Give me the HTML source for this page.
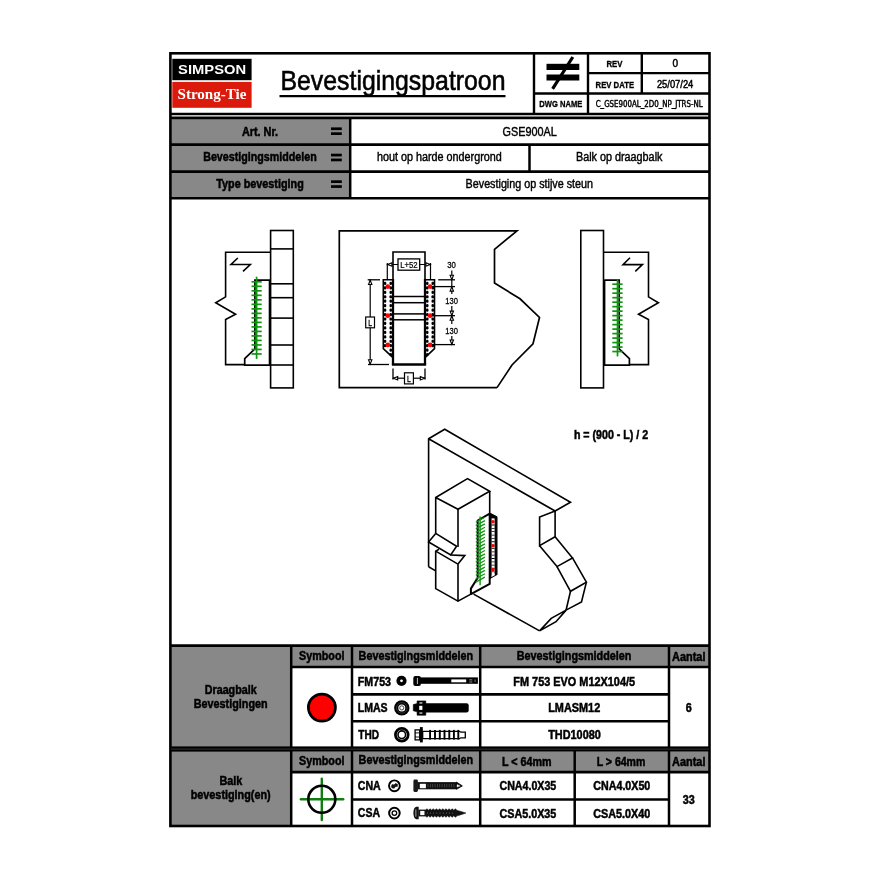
<!DOCTYPE html>
<html lang="nl"><head><meta charset="utf-8"><title>Bevestigingspatroon</title>
<style>
html,body{margin:0;padding:0;background:#fff;}
body{width:880px;height:880px;overflow:hidden;}
svg{display:block;filter:blur(0.45px);}
</style></head><body>
<svg width="880" height="880" viewBox="0 0 880 880">
<rect x="0" y="0" width="880" height="880" fill="#fff"/>

<rect x="171" y="118" width="179" height="80" fill="#888888" stroke="none" stroke-width="0"/>
<rect x="171" y="646" width="120.6" height="180" fill="#888888" stroke="none" stroke-width="0"/>
<rect x="291" y="646" width="418" height="21" fill="#888888" stroke="none" stroke-width="0"/>
<rect x="291" y="751.5" width="418" height="20.5" fill="#888888" stroke="none" stroke-width="0"/>
<rect x="170.4" y="53.3" width="539.1" height="772.7" fill="none" stroke="#000" stroke-width="2.6"/>
<line x1="170" y1="113.9" x2="710" y2="113.9" stroke="#000" stroke-width="2.5" />
<line x1="534" y1="53" x2="534" y2="114" stroke="#000" stroke-width="2.4" />
<line x1="534" y1="93.45" x2="709" y2="93.45" stroke="#000" stroke-width="2.4" />
<line x1="588" y1="53" x2="588" y2="114" stroke="#000" stroke-width="2.4" />
<line x1="588" y1="73.1" x2="709" y2="73.1" stroke="#000" stroke-width="2.4" />
<line x1="641.8" y1="53" x2="641.8" y2="93" stroke="#000" stroke-width="2.4" />
<rect x="172.3" y="58.8" width="79.3" height="21.4" fill="#000" stroke="none" stroke-width="0"/>
<rect x="172.3" y="81.9" width="79.3" height="25.9" fill="#db1a0b" stroke="none" stroke-width="0"/>
<text x="212.1" y="74.4" font-family="'Liberation Sans', Arial, sans-serif" font-size="13" font-weight="bold" fill="#fff" text-anchor="middle" textLength="68" lengthAdjust="spacingAndGlyphs" stroke="none">SIMPSON</text>
<text x="212" y="98.9" font-family="'Liberation Serif', serif" font-size="14.5" font-weight="bold" fill="#fff" text-anchor="middle" textLength="69" lengthAdjust="spacingAndGlyphs" stroke="none">Strong-Tie</text>
<text x="393" y="89.8" font-family="'Liberation Sans', Arial, sans-serif" font-size="27.8" font-weight="normal" fill="#000" text-anchor="middle" textLength="225" lengthAdjust="spacingAndGlyphs" stroke="#000" stroke-width="0.6">Bevestigingspatroon</text>
<line x1="279.5" y1="96.1" x2="505.5" y2="96.1" stroke="#000" stroke-width="2.2" />
<rect x="546.5" y="63.8" width="32.8" height="6.2" fill="#000" stroke="none" stroke-width="0"/>
<rect x="546.5" y="74.5" width="32.8" height="6.0" fill="#000" stroke="none" stroke-width="0"/>
<line x1="572.8" y1="57.0" x2="552.6" y2="88.9" stroke="#000" stroke-width="3.2" />
<text x="614.5" y="66.7" font-family="'Liberation Sans', Arial, sans-serif" font-size="9" font-weight="bold" fill="#000" text-anchor="middle" textLength="16" lengthAdjust="spacingAndGlyphs" stroke="#000" stroke-width="0.3">REV</text>
<text x="675.4" y="66.9" font-family="'Liberation Sans', Arial, sans-serif" font-size="11.2" font-weight="normal" fill="#000" text-anchor="middle" textLength="5.6" lengthAdjust="spacingAndGlyphs" stroke="#000" stroke-width="0.5">0</text>
<text x="614.8" y="87.5" font-family="'Liberation Sans', Arial, sans-serif" font-size="9" font-weight="bold" fill="#000" text-anchor="middle" textLength="38.5" lengthAdjust="spacingAndGlyphs" stroke="#000" stroke-width="0.3">REV DATE</text>
<text x="675.1" y="87.6" font-family="'Liberation Sans', Arial, sans-serif" font-size="11.2" font-weight="normal" fill="#000" text-anchor="middle" textLength="36.4" lengthAdjust="spacingAndGlyphs" stroke="#000" stroke-width="0.5">25/07/24</text>
<text x="560.8" y="107" font-family="'Liberation Sans', Arial, sans-serif" font-size="9" font-weight="bold" fill="#000" text-anchor="middle" textLength="43" lengthAdjust="spacingAndGlyphs" stroke="#000" stroke-width="0.3">DWG NAME</text>
<text x="649.2" y="106.6" font-family="'DejaVu Sans', 'Liberation Sans', sans-serif" font-size="8" font-weight="normal" fill="#000" text-anchor="middle" textLength="107" lengthAdjust="spacingAndGlyphs" stroke="#000" stroke-width="0.42">C_GSE900AL_2D0_NP_JTRS-NL</text>
<line x1="170" y1="117.9" x2="710" y2="117.9" stroke="#000" stroke-width="2.6" />
<line x1="170" y1="144.6" x2="710" y2="144.6" stroke="#000" stroke-width="2.6" />
<line x1="170" y1="171.6" x2="710" y2="171.6" stroke="#000" stroke-width="2.6" />
<line x1="170" y1="198.3" x2="710" y2="198.3" stroke="#000" stroke-width="2.6" />
<line x1="350.2" y1="117.5" x2="350.2" y2="198.5" stroke="#000" stroke-width="2.5" />
<line x1="529.5" y1="145" x2="529.5" y2="171.5" stroke="#000" stroke-width="2.5" />
<text x="260" y="135.7" font-family="'Liberation Sans', Arial, sans-serif" font-size="12.3" font-weight="bold" fill="#000" text-anchor="middle" textLength="36.2" lengthAdjust="spacingAndGlyphs"  stroke="#000" stroke-width="0.5">Art. Nr.</text>
<text x="260" y="161.4" font-family="'Liberation Sans', Arial, sans-serif" font-size="12.3" font-weight="bold" fill="#000" text-anchor="middle" textLength="113.6" lengthAdjust="spacingAndGlyphs"  stroke="#000" stroke-width="0.5">Bevestigingsmiddelen</text>
<text x="260" y="188" font-family="'Liberation Sans', Arial, sans-serif" font-size="12.3" font-weight="bold" fill="#000" text-anchor="middle" textLength="87.5" lengthAdjust="spacingAndGlyphs"  stroke="#000" stroke-width="0.5">Type bevestiging</text>
<rect x="331" y="127.39999999999999" width="10.8" height="2.7" fill="#000" stroke="none" stroke-width="0"/>
<rect x="331" y="132.29999999999998" width="10.8" height="2.7" fill="#000" stroke="none" stroke-width="0"/>
<rect x="331" y="153.70000000000002" width="10.8" height="2.7" fill="#000" stroke="none" stroke-width="0"/>
<rect x="331" y="158.6" width="10.8" height="2.7" fill="#000" stroke="none" stroke-width="0"/>
<rect x="331" y="180.3" width="10.8" height="2.7" fill="#000" stroke="none" stroke-width="0"/>
<rect x="331" y="185.2" width="10.8" height="2.7" fill="#000" stroke="none" stroke-width="0"/>
<text x="529.7" y="135.6" font-family="'Liberation Sans', Arial, sans-serif" font-size="12.3" font-weight="normal" fill="#000" text-anchor="middle" textLength="54.2" lengthAdjust="spacingAndGlyphs" stroke="#000" stroke-width="0.42">GSE900AL</text>
<text x="439.4" y="161.0" font-family="'Liberation Sans', Arial, sans-serif" font-size="12.3" font-weight="normal" fill="#000" text-anchor="middle" textLength="124.8" lengthAdjust="spacingAndGlyphs" stroke="#000" stroke-width="0.42">hout op harde ondergrond</text>
<text x="619.2" y="161.0" font-family="'Liberation Sans', Arial, sans-serif" font-size="12.3" font-weight="normal" fill="#000" text-anchor="middle" textLength="86.5" lengthAdjust="spacingAndGlyphs" stroke="#000" stroke-width="0.42">Balk op draagbalk</text>
<text x="529.3" y="188" font-family="'Liberation Sans', Arial, sans-serif" font-size="12.3" font-weight="normal" fill="#000" text-anchor="middle" textLength="127.4" lengthAdjust="spacingAndGlyphs" stroke="#000" stroke-width="0.42">Bevestiging op stijve steun</text>
<rect x="270.6" y="230.5" width="22.69999999999999" height="157.4" fill="none" stroke="#000" stroke-width="1.6"/>
<line x1="270.6" y1="248.9" x2="293.3" y2="248.9" stroke="#000" stroke-width="1.6" />
<line x1="270.6" y1="283.8" x2="293.3" y2="283.8" stroke="#000" stroke-width="1.6" />
<line x1="270.6" y1="297.7" x2="293.3" y2="297.7" stroke="#000" stroke-width="1.6" />
<line x1="270.6" y1="318.1" x2="293.3" y2="318.1" stroke="#000" stroke-width="1.6" />
<line x1="270.6" y1="345.0" x2="293.3" y2="345.0" stroke="#000" stroke-width="1.6" />
<line x1="270.6" y1="365.0" x2="293.3" y2="365.0" stroke="#000" stroke-width="1.6" />
<path d="M270.6 252.2 L225.6 252.2 L225.6 296.9 L215.7 302.8 L235.6 314.2 L225.6 319.5 L225.6 364.6 L244.7 364.6" fill="none" stroke="#000" stroke-width="1.6" stroke-linejoin="miter"/>
<path d="M270.0 280.1 L254.9 280.1 L254.9 348.8 L244.7 358.6 L244.7 365.2 L270.0 365.2" fill="none" stroke="#000" stroke-width="1.7" stroke-linejoin="miter"/>
<line x1="269.8" y1="280" x2="269.8" y2="365.5" stroke="#000" stroke-width="2.2" />
<path d="M237.8 258 L231 264.5 L250.3 264.5 L243 271.4" fill="none" stroke="#000" stroke-width="1.6" stroke-linejoin="miter"/>
<line x1="256.6" y1="276.7" x2="256.6" y2="358.9" stroke="#0f960f" stroke-width="1.7" />
<line x1="251.5" y1="281.8" x2="261.7" y2="281.8" stroke="#0f960f" stroke-width="1.7" />
<line x1="251.5" y1="286.31" x2="261.7" y2="286.31" stroke="#0f960f" stroke-width="1.7" />
<line x1="251.5" y1="290.82" x2="261.7" y2="290.82" stroke="#0f960f" stroke-width="1.7" />
<line x1="251.5" y1="295.33" x2="261.7" y2="295.33" stroke="#0f960f" stroke-width="1.7" />
<line x1="251.5" y1="299.84" x2="261.7" y2="299.84" stroke="#0f960f" stroke-width="1.7" />
<line x1="251.5" y1="304.35" x2="261.7" y2="304.35" stroke="#0f960f" stroke-width="1.7" />
<line x1="251.5" y1="308.86" x2="261.7" y2="308.86" stroke="#0f960f" stroke-width="1.7" />
<line x1="251.5" y1="313.37" x2="261.7" y2="313.37" stroke="#0f960f" stroke-width="1.7" />
<line x1="251.5" y1="317.88" x2="261.7" y2="317.88" stroke="#0f960f" stroke-width="1.7" />
<line x1="251.5" y1="322.39" x2="261.7" y2="322.39" stroke="#0f960f" stroke-width="1.7" />
<line x1="251.5" y1="326.9" x2="261.7" y2="326.9" stroke="#0f960f" stroke-width="1.7" />
<line x1="251.5" y1="331.41" x2="261.7" y2="331.41" stroke="#0f960f" stroke-width="1.7" />
<line x1="251.5" y1="335.92" x2="261.7" y2="335.92" stroke="#0f960f" stroke-width="1.7" />
<line x1="251.5" y1="340.43" x2="261.7" y2="340.43" stroke="#0f960f" stroke-width="1.7" />
<line x1="251.5" y1="344.94" x2="261.7" y2="344.94" stroke="#0f960f" stroke-width="1.7" />
<line x1="251.5" y1="349.45" x2="261.7" y2="349.45" stroke="#0f960f" stroke-width="1.7" />
<line x1="251.5" y1="353.96" x2="261.7" y2="353.96" stroke="#0f960f" stroke-width="1.7" />
<rect x="580.8" y="230.5" width="22.700000000000045" height="157.4" fill="none" stroke="#000" stroke-width="1.6"/>
<path d="M603.5 252.2 L648.5 252.2 L648.5 296.9 L658.4 302.8 L638.5 314.2 L648.5 319.5 L648.5 364.6 L629.4 364.6" fill="none" stroke="#000" stroke-width="1.6" stroke-linejoin="miter"/>
<path d="M604.1 280.1 L619.2 280.1 L619.2 348.8 L629.4 358.6 L629.4 365.2 L604.1 365.2" fill="none" stroke="#000" stroke-width="1.7" stroke-linejoin="miter"/>
<line x1="604.3" y1="280" x2="604.3" y2="365.5" stroke="#000" stroke-width="2.2" />
<path d="M630.0 257.7 L623 264.6 L642.4 264.6 L635.3 271.3" fill="none" stroke="#000" stroke-width="1.6" stroke-linejoin="miter"/>
<line x1="617.5" y1="279.7" x2="617.5" y2="356.4" stroke="#0f960f" stroke-width="1.7" />
<line x1="612.3" y1="284.2" x2="622.6" y2="284.2" stroke="#0f960f" stroke-width="1.7" />
<line x1="612.3" y1="288.69" x2="622.6" y2="288.69" stroke="#0f960f" stroke-width="1.7" />
<line x1="612.3" y1="293.18" x2="622.6" y2="293.18" stroke="#0f960f" stroke-width="1.7" />
<line x1="612.3" y1="297.67" x2="622.6" y2="297.67" stroke="#0f960f" stroke-width="1.7" />
<line x1="612.3" y1="302.16" x2="622.6" y2="302.16" stroke="#0f960f" stroke-width="1.7" />
<line x1="612.3" y1="306.65" x2="622.6" y2="306.65" stroke="#0f960f" stroke-width="1.7" />
<line x1="612.3" y1="311.14" x2="622.6" y2="311.14" stroke="#0f960f" stroke-width="1.7" />
<line x1="612.3" y1="315.63" x2="622.6" y2="315.63" stroke="#0f960f" stroke-width="1.7" />
<line x1="612.3" y1="320.12" x2="622.6" y2="320.12" stroke="#0f960f" stroke-width="1.7" />
<line x1="612.3" y1="324.61" x2="622.6" y2="324.61" stroke="#0f960f" stroke-width="1.7" />
<line x1="612.3" y1="329.1" x2="622.6" y2="329.1" stroke="#0f960f" stroke-width="1.7" />
<line x1="612.3" y1="333.59" x2="622.6" y2="333.59" stroke="#0f960f" stroke-width="1.7" />
<line x1="612.3" y1="338.08" x2="622.6" y2="338.08" stroke="#0f960f" stroke-width="1.7" />
<line x1="612.3" y1="342.57" x2="622.6" y2="342.57" stroke="#0f960f" stroke-width="1.7" />
<line x1="612.3" y1="347.06" x2="622.6" y2="347.06" stroke="#0f960f" stroke-width="1.7" />
<line x1="612.3" y1="351.55" x2="622.6" y2="351.55" stroke="#0f960f" stroke-width="1.7" />
<path d="M497 387.6 L339.3 387.6 L339.3 230.8 L517 230.8 L494.5 249.3 L494.5 283 L520 298.8 L539.5 317.5 L533 343.8 L512 365 L497 387.6" fill="none" stroke="#000" stroke-width="1.7" stroke-linejoin="miter"/>
<path d="M393.0 279.8 L383.3 279.8 L383.3 348.6 L393.0 357.7" fill="none" stroke="#000" stroke-width="1.6" stroke-linejoin="miter"/>
<rect x="383.80" y="281.80" width="2.5" height="3.2" rx="1.2" fill="#000"/>
<rect x="389.50" y="281.80" width="2.5" height="3.2" rx="1.2" fill="#000"/>
<rect x="383.80" y="286.25" width="2.5" height="3.2" rx="1.2" fill="#000"/>
<rect x="389.50" y="286.25" width="2.5" height="3.2" rx="1.2" fill="#000"/>
<rect x="383.80" y="290.70" width="2.5" height="3.2" rx="1.2" fill="#000"/>
<rect x="389.50" y="290.70" width="2.5" height="3.2" rx="1.2" fill="#000"/>
<rect x="383.80" y="295.15" width="2.5" height="3.2" rx="1.2" fill="#000"/>
<rect x="389.50" y="295.15" width="2.5" height="3.2" rx="1.2" fill="#000"/>
<rect x="383.80" y="299.60" width="2.5" height="3.2" rx="1.2" fill="#000"/>
<rect x="389.50" y="299.60" width="2.5" height="3.2" rx="1.2" fill="#000"/>
<rect x="383.80" y="304.05" width="2.5" height="3.2" rx="1.2" fill="#000"/>
<rect x="389.50" y="304.05" width="2.5" height="3.2" rx="1.2" fill="#000"/>
<rect x="383.80" y="308.50" width="2.5" height="3.2" rx="1.2" fill="#000"/>
<rect x="389.50" y="308.50" width="2.5" height="3.2" rx="1.2" fill="#000"/>
<rect x="383.80" y="312.95" width="2.5" height="3.2" rx="1.2" fill="#000"/>
<rect x="389.50" y="312.95" width="2.5" height="3.2" rx="1.2" fill="#000"/>
<rect x="383.80" y="317.40" width="2.5" height="3.2" rx="1.2" fill="#000"/>
<rect x="389.50" y="317.40" width="2.5" height="3.2" rx="1.2" fill="#000"/>
<rect x="383.80" y="321.85" width="2.5" height="3.2" rx="1.2" fill="#000"/>
<rect x="389.50" y="321.85" width="2.5" height="3.2" rx="1.2" fill="#000"/>
<rect x="383.80" y="326.30" width="2.5" height="3.2" rx="1.2" fill="#000"/>
<rect x="389.50" y="326.30" width="2.5" height="3.2" rx="1.2" fill="#000"/>
<rect x="383.80" y="330.75" width="2.5" height="3.2" rx="1.2" fill="#000"/>
<rect x="389.50" y="330.75" width="2.5" height="3.2" rx="1.2" fill="#000"/>
<rect x="383.80" y="335.20" width="2.5" height="3.2" rx="1.2" fill="#000"/>
<rect x="389.50" y="335.20" width="2.5" height="3.2" rx="1.2" fill="#000"/>
<rect x="383.80" y="339.65" width="2.5" height="3.2" rx="1.2" fill="#000"/>
<rect x="389.50" y="339.65" width="2.5" height="3.2" rx="1.2" fill="#000"/>
<rect x="383.80" y="344.10" width="2.5" height="3.2" rx="1.2" fill="#000"/>
<rect x="389.50" y="344.10" width="2.5" height="3.2" rx="1.2" fill="#000"/>
<rect x="389.50" y="348.55" width="2.5" height="3.2" rx="1.2" fill="#000"/>
<rect x="389.50" y="353.00" width="2.5" height="3.2" rx="1.2" fill="#000"/>
<path d="M425.0 279.8 L434.5 279.8 L434.5 348.6 L425.0 357.7" fill="none" stroke="#000" stroke-width="1.6" stroke-linejoin="miter"/>
<rect x="431.50" y="281.80" width="2.5" height="3.2" rx="1.2" fill="#000"/>
<rect x="426.00" y="281.80" width="2.5" height="3.2" rx="1.2" fill="#000"/>
<rect x="431.50" y="286.25" width="2.5" height="3.2" rx="1.2" fill="#000"/>
<rect x="426.00" y="286.25" width="2.5" height="3.2" rx="1.2" fill="#000"/>
<rect x="431.50" y="290.70" width="2.5" height="3.2" rx="1.2" fill="#000"/>
<rect x="426.00" y="290.70" width="2.5" height="3.2" rx="1.2" fill="#000"/>
<rect x="431.50" y="295.15" width="2.5" height="3.2" rx="1.2" fill="#000"/>
<rect x="426.00" y="295.15" width="2.5" height="3.2" rx="1.2" fill="#000"/>
<rect x="431.50" y="299.60" width="2.5" height="3.2" rx="1.2" fill="#000"/>
<rect x="426.00" y="299.60" width="2.5" height="3.2" rx="1.2" fill="#000"/>
<rect x="431.50" y="304.05" width="2.5" height="3.2" rx="1.2" fill="#000"/>
<rect x="426.00" y="304.05" width="2.5" height="3.2" rx="1.2" fill="#000"/>
<rect x="431.50" y="308.50" width="2.5" height="3.2" rx="1.2" fill="#000"/>
<rect x="426.00" y="308.50" width="2.5" height="3.2" rx="1.2" fill="#000"/>
<rect x="431.50" y="312.95" width="2.5" height="3.2" rx="1.2" fill="#000"/>
<rect x="426.00" y="312.95" width="2.5" height="3.2" rx="1.2" fill="#000"/>
<rect x="431.50" y="317.40" width="2.5" height="3.2" rx="1.2" fill="#000"/>
<rect x="426.00" y="317.40" width="2.5" height="3.2" rx="1.2" fill="#000"/>
<rect x="431.50" y="321.85" width="2.5" height="3.2" rx="1.2" fill="#000"/>
<rect x="426.00" y="321.85" width="2.5" height="3.2" rx="1.2" fill="#000"/>
<rect x="431.50" y="326.30" width="2.5" height="3.2" rx="1.2" fill="#000"/>
<rect x="426.00" y="326.30" width="2.5" height="3.2" rx="1.2" fill="#000"/>
<rect x="431.50" y="330.75" width="2.5" height="3.2" rx="1.2" fill="#000"/>
<rect x="426.00" y="330.75" width="2.5" height="3.2" rx="1.2" fill="#000"/>
<rect x="431.50" y="335.20" width="2.5" height="3.2" rx="1.2" fill="#000"/>
<rect x="426.00" y="335.20" width="2.5" height="3.2" rx="1.2" fill="#000"/>
<rect x="431.50" y="339.65" width="2.5" height="3.2" rx="1.2" fill="#000"/>
<rect x="426.00" y="339.65" width="2.5" height="3.2" rx="1.2" fill="#000"/>
<rect x="431.50" y="344.10" width="2.5" height="3.2" rx="1.2" fill="#000"/>
<rect x="426.00" y="344.10" width="2.5" height="3.2" rx="1.2" fill="#000"/>
<rect x="426.00" y="348.55" width="2.5" height="3.2" rx="1.2" fill="#000"/>
<rect x="426.00" y="353.00" width="2.5" height="3.2" rx="1.2" fill="#000"/>
<path d="M393 279.8 L393 252 L425 252 L425 279.8" fill="none" stroke="#000" stroke-width="1.6" stroke-linejoin="miter"/>
<line x1="393" y1="279" x2="393" y2="365" stroke="#000" stroke-width="2.3" />
<line x1="425" y1="279" x2="425" y2="365" stroke="#000" stroke-width="2.3" />
<line x1="391.9" y1="364.5" x2="426.1" y2="364.5" stroke="#000" stroke-width="2.6" />
<line x1="393" y1="296.5" x2="425" y2="296.5" stroke="#000" stroke-width="1.5" />
<line x1="393" y1="302.7" x2="425" y2="302.7" stroke="#000" stroke-width="1.5" />
<line x1="393" y1="313.9" x2="425" y2="313.9" stroke="#000" stroke-width="1.5" />
<line x1="393" y1="319.8" x2="425" y2="319.8" stroke="#000" stroke-width="1.5" />
<circle cx="387.8" cy="286.6" r="2.4" fill="#ff0000"/>
<circle cx="387.8" cy="315.7" r="2.4" fill="#ff0000"/>
<circle cx="387.8" cy="344.9" r="2.4" fill="#ff0000"/>
<circle cx="430.1" cy="286.6" r="2.4" fill="#ff0000"/>
<circle cx="430.1" cy="315.7" r="2.4" fill="#ff0000"/>
<circle cx="430.1" cy="344.9" r="2.4" fill="#ff0000"/>
<line x1="387.3" y1="263" x2="387.3" y2="279.8" stroke="#000" stroke-width="1.2" />
<line x1="430.5" y1="263" x2="430.5" y2="279.8" stroke="#000" stroke-width="1.2" />
<line x1="387.3" y1="264.5" x2="430.5" y2="264.5" stroke="#000" stroke-width="1.2" />
<path d="M391.90000000000003 262.8 L387.6 264.5 L391.90000000000003 266.2 Z" fill="#fff" stroke="#000" stroke-width="1.1" stroke-linejoin="miter"/>
<path d="M425.9 262.8 L430.2 264.5 L425.9 266.2 Z" fill="#fff" stroke="#000" stroke-width="1.1" stroke-linejoin="miter"/>
<rect x="398" y="258.9" width="21.7" height="11.3" fill="#fff" stroke="#000" stroke-width="1.3"/>
<text x="408.9" y="268.1" font-family="'Liberation Sans', Arial, sans-serif" font-size="8.2" font-weight="normal" fill="#000" text-anchor="middle" textLength="17.5" lengthAdjust="spacingAndGlyphs" stroke="#000" stroke-width="0.2">L+52</text>
<line x1="451.8" y1="270.5" x2="451.8" y2="344.9" stroke="#000" stroke-width="1.2" />
<line x1="438.2" y1="279.8" x2="455" y2="279.8" stroke="#000" stroke-width="1.3" />
<line x1="432" y1="286.6" x2="455" y2="286.6" stroke="#000" stroke-width="1.3" />
<line x1="432" y1="315.7" x2="455" y2="315.7" stroke="#000" stroke-width="1.3" />
<line x1="432" y1="344.6" x2="455" y2="344.6" stroke="#000" stroke-width="1.3" />
<path d="M450.1 275.3 L451.8 279.6 L453.5 275.3 Z" fill="#fff" stroke="#000" stroke-width="1.1" stroke-linejoin="miter"/>
<path d="M450.1 291.1 L451.8 286.8 L453.5 291.1 Z" fill="#fff" stroke="#000" stroke-width="1.1" stroke-linejoin="miter"/>
<path d="M450.1 311.09999999999997 L451.8 315.4 L453.5 311.09999999999997 Z" fill="#fff" stroke="#000" stroke-width="1.1" stroke-linejoin="miter"/>
<path d="M450.1 320.3 L451.8 316.0 L453.5 320.3 Z" fill="#fff" stroke="#000" stroke-width="1.1" stroke-linejoin="miter"/>
<path d="M450.1 340.0 L451.8 344.3 L453.5 340.0 Z" fill="#fff" stroke="#000" stroke-width="1.1" stroke-linejoin="miter"/>
<rect x="444" y="294" width="16" height="12" fill="#fff" stroke="none" stroke-width="0"/>
<rect x="444" y="324" width="16" height="12" fill="#fff" stroke="none" stroke-width="0"/>
<text x="451.5" y="267.6" font-family="'Liberation Sans', Arial, sans-serif" font-size="8.7" font-weight="normal" fill="#000" text-anchor="middle" textLength="8.6" lengthAdjust="spacingAndGlyphs" stroke="#000" stroke-width="0.28">30</text>
<text x="451.6" y="304.1" font-family="'Liberation Sans', Arial, sans-serif" font-size="8.7" font-weight="normal" fill="#000" text-anchor="middle" textLength="12.6" lengthAdjust="spacingAndGlyphs" stroke="#000" stroke-width="0.28">130</text>
<text x="451.6" y="333.5" font-family="'Liberation Sans', Arial, sans-serif" font-size="8.7" font-weight="normal" fill="#000" text-anchor="middle" textLength="12.6" lengthAdjust="spacingAndGlyphs" stroke="#000" stroke-width="0.28">130</text>
<line x1="370.2" y1="279.8" x2="370.2" y2="364.5" stroke="#000" stroke-width="1.2" />
<line x1="367.7" y1="279.8" x2="380" y2="279.8" stroke="#000" stroke-width="1.3" />
<line x1="368" y1="364.5" x2="389" y2="364.5" stroke="#000" stroke-width="1.3" />
<path d="M368.5 284.5 L370.2 280.2 L371.9 284.5 Z" fill="#fff" stroke="#000" stroke-width="1.1" stroke-linejoin="miter"/>
<path d="M368.5 359.8 L370.2 364.1 L371.9 359.8 Z" fill="#fff" stroke="#000" stroke-width="1.1" stroke-linejoin="miter"/>
<rect x="365.7" y="317" width="8.8" height="10.8" fill="#fff" stroke="#000" stroke-width="1.2"/>
<text x="370.1" y="325.8" font-family="'Liberation Sans', Arial, sans-serif" font-size="8.2" font-weight="normal" fill="#000" text-anchor="middle" textLength="3.8" lengthAdjust="spacingAndGlyphs" stroke="#000" stroke-width="0.28">L</text>
<line x1="393" y1="368.5" x2="393" y2="379.5" stroke="#000" stroke-width="1.3" />
<line x1="425" y1="368.5" x2="425" y2="379.5" stroke="#000" stroke-width="1.3" />
<line x1="393" y1="378.2" x2="425" y2="378.2" stroke="#000" stroke-width="1.2" />
<path d="M397.7 376.5 L393.4 378.2 L397.7 379.9 Z" fill="#fff" stroke="#000" stroke-width="1.1" stroke-linejoin="miter"/>
<path d="M420.3 376.5 L424.6 378.2 L420.3 379.9 Z" fill="#fff" stroke="#000" stroke-width="1.1" stroke-linejoin="miter"/>
<rect x="404.5" y="372.8" width="8.9" height="11.1" fill="#fff" stroke="#000" stroke-width="1.2"/>
<text x="409" y="381.8" font-family="'Liberation Sans', Arial, sans-serif" font-size="8.2" font-weight="normal" fill="#000" text-anchor="middle" textLength="3.8" lengthAdjust="spacingAndGlyphs" stroke="#000" stroke-width="0.28">L</text>
<path d="M428.6 566.8 L428.6 438.8 L444.7 429.3 L570.5 502.3 L555.1 511.0 L428.6 438.8" fill="none" stroke="#000" stroke-width="1.6" stroke-linejoin="miter"/>
<path d="M428.6 566.8 L435.7 570.9" fill="none" stroke="#000" stroke-width="1.6" stroke-linejoin="miter"/>
<path d="M555.1 511.0 L539.6 517.0 L539.6 545.7 L555.1 536.7 L555.1 511.0" fill="none" stroke="#000" stroke-width="1.6" stroke-linejoin="miter"/>
<path d="M555.1 536.7 L572.5 557.9 L557.0 566.6 L539.6 545.7" fill="none" stroke="#000" stroke-width="1.6" stroke-linejoin="miter"/>
<path d="M572.5 557.9 L586.4 582.1 L570.5 591.3 L557.0 566.6" fill="none" stroke="#000" stroke-width="1.6" stroke-linejoin="miter"/>
<path d="M586.4 582.1 L581.5 602.0 L566.1 610.1 L570.5 591.3" fill="none" stroke="#000" stroke-width="1.6" stroke-linejoin="miter"/>
<path d="M566.1 610.1 L551.2 618.4 L539.6 630.9 L556.0 621.7 L566.1 610.1" fill="none" stroke="#000" stroke-width="1.6" stroke-linejoin="miter"/>
<path d="M539.6 630.9 L473.6 594.1" fill="none" stroke="#000" stroke-width="1.6" stroke-linejoin="miter"/>
<path d="M435.7 533.4 L435.7 497.5 L467.5 478.6 L489.7 491.3 L458.0 509.3 L435.7 497.5" fill="none" stroke="#000" stroke-width="1.6" stroke-linejoin="miter"/>
<path d="M458.0 509.3 L458.0 547.0" fill="none" stroke="#000" stroke-width="1.6" stroke-linejoin="miter"/>
<path d="M489.7 491.3 L489.7 514.0" fill="none" stroke="#000" stroke-width="1.6" stroke-linejoin="miter"/>
<path d="M435.7 533.4 L428.6 542.0 L450.7 555.0 L456.6 546.2 L435.7 533.4" fill="none" stroke="#000" stroke-width="1.6" stroke-linejoin="miter"/>
<path d="M439 549.3 L435.7 551.1 L435.7 588.6 L458.0 601.2 L470.9 594.1" fill="none" stroke="#000" stroke-width="1.6" stroke-linejoin="miter"/>
<path d="M435.7 551.1 L458.0 564.1 L458.0 601.2" fill="none" stroke="#000" stroke-width="1.6" stroke-linejoin="miter"/>
<path d="M450.7 555.0 L464.8 555.6 L458.0 564.1" fill="none" stroke="#000" stroke-width="1.6" stroke-linejoin="miter"/>
<path d="M489.7 513.6 L496.8 517.5 L496.8 574.3 L489.7 578.4 Z" fill="#000" stroke="#000" stroke-width="1.4" stroke-linejoin="miter"/>
<line x1="493.1" y1="518.4" x2="493.1" y2="574.6" stroke="#fff" stroke-width="3.0" />
<line x1="493.1" y1="524.6" x2="493.1" y2="573" stroke="#000" stroke-width="3.0" stroke-dasharray="0.8 2.55"/>
<path d="M491.6 576.4 L493 572.6 L494.6 575 Z" fill="#fff" stroke="#fff" stroke-width="0.8" stroke-linejoin="miter"/>
<circle cx="492.9" cy="521.7" r="1.8" fill="#ff0000"/>
<circle cx="492.9" cy="545.8" r="1.8" fill="#ff0000"/>
<circle cx="492.9" cy="569.4" r="1.8" fill="#ff0000"/>
<path d="M496.8 517.5 L489.7 513.6 L477.7 520.5 L477.7 577.7 L470.9 588.6 L470.9 594.1 L489.7 583.9 L489.7 513.6" fill="none" stroke="#000" stroke-width="2.0" stroke-linejoin="round"/>
<line x1="480.1" y1="516.4" x2="480.1" y2="585.2" stroke="#0f960f" stroke-width="1.4" />
<line x1="475.8" y1="522.3" x2="484.9" y2="517.3" stroke="#0f960f" stroke-width="1.3" />
<line x1="475.8" y1="525.62" x2="484.9" y2="520.62" stroke="#0f960f" stroke-width="1.3" />
<line x1="475.8" y1="528.94" x2="484.9" y2="523.94" stroke="#0f960f" stroke-width="1.3" />
<line x1="475.8" y1="532.26" x2="484.9" y2="527.26" stroke="#0f960f" stroke-width="1.3" />
<line x1="475.8" y1="535.58" x2="484.9" y2="530.58" stroke="#0f960f" stroke-width="1.3" />
<line x1="475.8" y1="538.9" x2="484.9" y2="533.9" stroke="#0f960f" stroke-width="1.3" />
<line x1="475.8" y1="542.22" x2="484.9" y2="537.22" stroke="#0f960f" stroke-width="1.3" />
<line x1="475.8" y1="545.54" x2="484.9" y2="540.54" stroke="#0f960f" stroke-width="1.3" />
<line x1="475.8" y1="548.86" x2="484.9" y2="543.86" stroke="#0f960f" stroke-width="1.3" />
<line x1="475.8" y1="552.18" x2="484.9" y2="547.18" stroke="#0f960f" stroke-width="1.3" />
<line x1="475.8" y1="555.5" x2="484.9" y2="550.5" stroke="#0f960f" stroke-width="1.3" />
<line x1="475.8" y1="558.82" x2="484.9" y2="553.82" stroke="#0f960f" stroke-width="1.3" />
<line x1="475.8" y1="562.14" x2="484.9" y2="557.14" stroke="#0f960f" stroke-width="1.3" />
<line x1="475.8" y1="565.46" x2="484.9" y2="560.46" stroke="#0f960f" stroke-width="1.3" />
<line x1="475.8" y1="568.78" x2="484.9" y2="563.78" stroke="#0f960f" stroke-width="1.3" />
<line x1="475.8" y1="572.1" x2="484.9" y2="567.1" stroke="#0f960f" stroke-width="1.3" />
<line x1="475.8" y1="575.42" x2="484.9" y2="570.42" stroke="#0f960f" stroke-width="1.3" />
<line x1="475.8" y1="578.74" x2="484.9" y2="573.74" stroke="#0f960f" stroke-width="1.3" />
<line x1="475.8" y1="582.06" x2="484.9" y2="577.06" stroke="#0f960f" stroke-width="1.3" />
<text x="611" y="438.75" font-family="'Liberation Sans', Arial, sans-serif" font-size="12" font-weight="bold" fill="#000" text-anchor="middle" textLength="74.2" lengthAdjust="spacingAndGlyphs"  stroke="#000" stroke-width="0.5">h = (900 - L) / 2</text>
<line x1="170" y1="645.6" x2="710" y2="645.6" stroke="#000" stroke-width="2.6" />
<line x1="291.2" y1="645" x2="291.2" y2="826" stroke="#000" stroke-width="2.5" />
<line x1="352.0" y1="645" x2="352.0" y2="826" stroke="#000" stroke-width="2.5" />
<line x1="480.2" y1="645" x2="480.2" y2="826" stroke="#000" stroke-width="2.5" />
<line x1="669" y1="645" x2="669" y2="826" stroke="#000" stroke-width="2.5" />
<line x1="574.7" y1="751" x2="574.7" y2="826" stroke="#000" stroke-width="2.5" />
<line x1="291" y1="667.0" x2="710" y2="667.0" stroke="#000" stroke-width="2.6" />
<line x1="351" y1="694.4" x2="669" y2="694.4" stroke="#000" stroke-width="2.6" />
<line x1="351" y1="721.2" x2="669" y2="721.2" stroke="#000" stroke-width="2.6" />
<rect x="170" y="746.4" width="540" height="5.2" fill="#000" stroke="none" stroke-width="0"/>
<line x1="171" y1="749.1" x2="709" y2="749.1" stroke="#4a4a4a" stroke-width="0.7" />
<line x1="291" y1="772.1" x2="710" y2="772.1" stroke="#000" stroke-width="2.6" />
<line x1="351" y1="799.6" x2="669" y2="799.6" stroke="#000" stroke-width="2.5" />
<text x="230.7" y="693.6" font-family="'Liberation Sans', Arial, sans-serif" font-size="12.3" font-weight="bold" fill="#000" text-anchor="middle" textLength="51.8" lengthAdjust="spacingAndGlyphs"  stroke="#000" stroke-width="0.5">Draagbalk</text>
<text x="230.7" y="707.7" font-family="'Liberation Sans', Arial, sans-serif" font-size="12.3" font-weight="bold" fill="#000" text-anchor="middle" textLength="73.8" lengthAdjust="spacingAndGlyphs"  stroke="#000" stroke-width="0.5">Bevestigingen</text>
<text x="230.9" y="785" font-family="'Liberation Sans', Arial, sans-serif" font-size="12.3" font-weight="bold" fill="#000" text-anchor="middle" textLength="22.8" lengthAdjust="spacingAndGlyphs"  stroke="#000" stroke-width="0.5">Balk</text>
<text x="230.7" y="799.1" font-family="'Liberation Sans', Arial, sans-serif" font-size="12.3" font-weight="bold" fill="#000" text-anchor="middle" textLength="80" lengthAdjust="spacingAndGlyphs"  stroke="#000" stroke-width="0.5">bevestiging(en)</text>
<text x="321.8" y="660" font-family="'Liberation Sans', Arial, sans-serif" font-size="12.3" font-weight="bold" fill="#000" text-anchor="middle" textLength="45.4" lengthAdjust="spacingAndGlyphs"  stroke="#000" stroke-width="0.5">Symbool</text>
<text x="321.8" y="764.6" font-family="'Liberation Sans', Arial, sans-serif" font-size="12.3" font-weight="bold" fill="#000" text-anchor="middle" textLength="45.4" lengthAdjust="spacingAndGlyphs"  stroke="#000" stroke-width="0.5">Symbool</text>
<text x="415.9" y="659.9" font-family="'Liberation Sans', Arial, sans-serif" font-size="12.3" font-weight="bold" fill="#000" text-anchor="middle" textLength="114.6" lengthAdjust="spacingAndGlyphs"  stroke="#000" stroke-width="0.5">Bevestigingsmiddelen</text>
<text x="415.9" y="763.9" font-family="'Liberation Sans', Arial, sans-serif" font-size="12.3" font-weight="bold" fill="#000" text-anchor="middle" textLength="114.6" lengthAdjust="spacingAndGlyphs"  stroke="#000" stroke-width="0.5">Bevestigingsmiddelen</text>
<text x="574.1" y="660" font-family="'Liberation Sans', Arial, sans-serif" font-size="12.3" font-weight="bold" fill="#000" text-anchor="middle" textLength="114.7" lengthAdjust="spacingAndGlyphs"  stroke="#000" stroke-width="0.5">Bevestigingsmiddelen</text>
<text x="688.8" y="660.9" font-family="'Liberation Sans', Arial, sans-serif" font-size="12.3" font-weight="bold" fill="#000" text-anchor="middle" textLength="33.4" lengthAdjust="spacingAndGlyphs"  stroke="#000" stroke-width="0.5">Aantal</text>
<text x="688.8" y="766.2" font-family="'Liberation Sans', Arial, sans-serif" font-size="12.3" font-weight="bold" fill="#000" text-anchor="middle" textLength="33.4" lengthAdjust="spacingAndGlyphs"  stroke="#000" stroke-width="0.5">Aantal</text>
<text x="574.2" y="685.9" font-family="'Liberation Sans', Arial, sans-serif" font-size="12.3" font-weight="bold" fill="#000" text-anchor="middle" textLength="121.7" lengthAdjust="spacingAndGlyphs"  stroke="#000" stroke-width="0.5">FM 753 EVO M12X104/5</text>
<text x="574.2" y="712.4" font-family="'Liberation Sans', Arial, sans-serif" font-size="12.3" font-weight="bold" fill="#000" text-anchor="middle" textLength="52" lengthAdjust="spacingAndGlyphs"  stroke="#000" stroke-width="0.5">LMASM12</text>
<text x="574.5" y="739.4" font-family="'Liberation Sans', Arial, sans-serif" font-size="12.3" font-weight="bold" fill="#000" text-anchor="middle" textLength="52.6" lengthAdjust="spacingAndGlyphs"  stroke="#000" stroke-width="0.5">THD10080</text>
<text x="688.8" y="712.4" font-family="'Liberation Sans', Arial, sans-serif" font-size="12.3" font-weight="bold" fill="#000" text-anchor="middle" textLength="6" lengthAdjust="spacingAndGlyphs"  stroke="#000" stroke-width="0.5">6</text>
<text x="688.8" y="804.3" font-family="'Liberation Sans', Arial, sans-serif" font-size="12.3" font-weight="bold" fill="#000" text-anchor="middle" textLength="12" lengthAdjust="spacingAndGlyphs"  stroke="#000" stroke-width="0.5">33</text>
<text x="526.8" y="765.8" font-family="'Liberation Sans', Arial, sans-serif" font-size="12.3" font-weight="bold" fill="#000" text-anchor="middle" textLength="49.6" lengthAdjust="spacingAndGlyphs"  stroke="#000" stroke-width="0.5">L &lt; 64mm</text>
<text x="621" y="765.8" font-family="'Liberation Sans', Arial, sans-serif" font-size="12.3" font-weight="bold" fill="#000" text-anchor="middle" textLength="48.7" lengthAdjust="spacingAndGlyphs"  stroke="#000" stroke-width="0.5">L &gt; 64mm</text>
<text x="527.9" y="790.3" font-family="'Liberation Sans', Arial, sans-serif" font-size="12.3" font-weight="bold" fill="#000" text-anchor="middle" textLength="56.8" lengthAdjust="spacingAndGlyphs"  stroke="#000" stroke-width="0.5">CNA4.0X35</text>
<text x="621.8" y="790.3" font-family="'Liberation Sans', Arial, sans-serif" font-size="12.3" font-weight="bold" fill="#000" text-anchor="middle" textLength="57" lengthAdjust="spacingAndGlyphs"  stroke="#000" stroke-width="0.5">CNA4.0X50</text>
<text x="527.9" y="818.2" font-family="'Liberation Sans', Arial, sans-serif" font-size="12.3" font-weight="bold" fill="#000" text-anchor="middle" textLength="56.8" lengthAdjust="spacingAndGlyphs"  stroke="#000" stroke-width="0.5">CSA5.0X35</text>
<text x="621.8" y="818.2" font-family="'Liberation Sans', Arial, sans-serif" font-size="12.3" font-weight="bold" fill="#000" text-anchor="middle" textLength="57" lengthAdjust="spacingAndGlyphs"  stroke="#000" stroke-width="0.5">CSA5.0X40</text>
<text x="357.8" y="685.6" font-family="'Liberation Sans', Arial, sans-serif" font-size="12.3" font-weight="bold" fill="#000" text-anchor="start" textLength="33.2" lengthAdjust="spacingAndGlyphs"  stroke="#000" stroke-width="0.5">FM753</text>
<text x="357.8" y="711.9" font-family="'Liberation Sans', Arial, sans-serif" font-size="12.3" font-weight="bold" fill="#000" text-anchor="start" textLength="29.8" lengthAdjust="spacingAndGlyphs"  stroke="#000" stroke-width="0.5">LMAS</text>
<text x="358.3" y="739.4" font-family="'Liberation Sans', Arial, sans-serif" font-size="12.3" font-weight="bold" fill="#000" text-anchor="start" textLength="20.8" lengthAdjust="spacingAndGlyphs"  stroke="#000" stroke-width="0.5">THD</text>
<text x="357.8" y="790.2" font-family="'Liberation Sans', Arial, sans-serif" font-size="12.3" font-weight="bold" fill="#000" text-anchor="start" textLength="23" lengthAdjust="spacingAndGlyphs"  stroke="#000" stroke-width="0.5">CNA</text>
<text x="357.8" y="817.1" font-family="'Liberation Sans', Arial, sans-serif" font-size="12.3" font-weight="bold" fill="#000" text-anchor="start" textLength="22.2" lengthAdjust="spacingAndGlyphs"  stroke="#000" stroke-width="0.5">CSA</text>
<circle cx="321.9" cy="707.6" r="13.5" fill="#ff0000" stroke="#000" stroke-width="2.8"/>
<line x1="300.9" y1="799.3" x2="343.2" y2="799.3" stroke="#0f7d0f" stroke-width="2.4" stroke-linecap="round"/>
<line x1="321.8" y1="778.6" x2="321.8" y2="820.0" stroke="#0f7d0f" stroke-width="2.4" stroke-linecap="round"/>
<circle cx="321.8" cy="799.3" r="13.5" fill="none" stroke="#000" stroke-width="2.6"/>
<circle cx="401.5" cy="680.8" r="5.1" fill="#000"/><circle cx="401.5" cy="680.8" r="1.4" fill="#fff"/>
<rect x="413.3" y="676.0" width="7.6" height="9.9" rx="2" fill="#000"/>
<rect x="416.9" y="677.8" width="1.0" height="6.3" fill="#fff" opacity="0.75"/>
<rect x="420" y="677.4" width="57.9" height="6.4" fill="#000" stroke="none" stroke-width="0"/>
<rect x="451.3" y="679.4" width="14.9" height="2.9" fill="#fff" stroke="none" stroke-width="0"/>
<rect x="469.3" y="679.3" width="3.0" height="1.1" fill="#8a8a8a" stroke="none" stroke-width="0"/>
<rect x="469.3" y="681.5" width="3.0" height="1.0" fill="#8a8a8a" stroke="none" stroke-width="0"/>
<rect x="474.6" y="679.4" width="1.0" height="2.6" fill="#777" stroke="none" stroke-width="0"/>
<circle cx="401.8" cy="707.9" r="7.7" fill="#000"/><circle cx="401.8" cy="707.9" r="5.3" fill="none" stroke="#666" stroke-width="0.5"/><circle cx="401.8" cy="707.9" r="3.5" fill="#fff"/><circle cx="401.8" cy="707.9" r="2.1" fill="none" stroke="#333" stroke-width="0.9"/>
<path d="M413.3 704.6 L417.1 703.6 L417.1 700.9 L425.8 700.9 L425.8 715.2 L417.1 715.2 L417.1 711.8 L413.3 710.8 Z" fill="#000" stroke="#000" stroke-width="0.6" stroke-linejoin="miter"/>
<rect x="419.2" y="705.8" width="3.2" height="4.1" fill="#fff" stroke="none" stroke-width="0"/>
<rect x="419.4" y="702.2" width="3.0" height="1.5" fill="#bbb" stroke="none" stroke-width="0"/>
<rect x="419.4" y="712.3" width="3.0" height="1.5" fill="#bbb" stroke="none" stroke-width="0"/>
<rect x="424" y="703.3" width="44.7" height="9.2" rx="2.2" fill="#000"/>
<circle cx="401.8" cy="734.7" r="6.4" fill="#fff" stroke="#000" stroke-width="2.7"/><circle cx="401.8" cy="734.7" r="3.8" fill="#fff" stroke="#000" stroke-width="1.6"/>
<rect x="415.1" y="729.9" width="4.6" height="10.0" fill="#fff" stroke="#000" stroke-width="1.3"/>
<line x1="415" y1="732.9" x2="419.7" y2="732.9" stroke="#000" stroke-width="0.9" />
<line x1="415" y1="737.0" x2="419.7" y2="737.0" stroke="#000" stroke-width="0.9" />
<rect x="419.9" y="727.1" width="2.9" height="15.3" fill="#000" stroke="none" stroke-width="0"/>
<path d="M422.7 731.4 L459.5 731.4 L461 732.2 L465.3 732.2 L465.3 737.8 L461 737.8 L459.5 738.6 L422.7 738.6 Z" fill="#fff" stroke="#000" stroke-width="1.3" stroke-linejoin="miter"/>
<line x1="430.08" y1="729.9" x2="430.08" y2="739.6" stroke="#000" stroke-width="1.9" />
<line x1="434.99" y1="729.9" x2="434.99" y2="739.6" stroke="#000" stroke-width="1.9" />
<line x1="439.8" y1="729.9" x2="439.8" y2="739.6" stroke="#000" stroke-width="1.9" />
<line x1="444.5" y1="729.9" x2="444.5" y2="739.6" stroke="#000" stroke-width="1.9" />
<line x1="449.3" y1="729.9" x2="449.3" y2="739.6" stroke="#000" stroke-width="1.9" />
<line x1="453.91" y1="729.9" x2="453.91" y2="739.6" stroke="#000" stroke-width="1.9" />
<line x1="458.3" y1="729.9" x2="458.3" y2="739.6" stroke="#000" stroke-width="1.9" />
<circle cx="394.4" cy="785.8" r="5.4" fill="#fff" stroke="#000" stroke-width="1.9"/>
<path d="M391.3 786.6 L392.2 784.4 L394 784.9 L395.4 783.6 L397.5 784.2 L397.3 786.6 L395.6 786.4 L394.2 788.2 L392 787.9 Z" fill="#111" stroke="#111" stroke-width="0.6" stroke-linejoin="round"/>
<rect x="413.4" y="779.6" width="4.5" height="12.3" rx="1.3" fill="#1a1a1a"/>
<rect x="417.5" y="782.1" width="39.2" height="7.2" fill="#111" stroke="none" stroke-width="0"/>
<rect x="419.8" y="783.8" width="6.1" height="4.4" fill="#fff" stroke="none" stroke-width="0"/>
<line x1="427.6" y1="785.7" x2="455" y2="785.7" stroke="#4a4a4a" stroke-width="3.2" stroke-dasharray="0.8 1.55"/>
<path d="M456.5 782.1 L462.4 785.9 L456.5 789.3 Z" fill="#111" stroke="#000" stroke-width="0.8" stroke-linejoin="miter"/>
<path d="M457 784.5 L460.2 785.9 L457 787.1 Z" fill="#fff" stroke="#fff" stroke-width="0.3" stroke-linejoin="miter"/>
<circle cx="394.4" cy="813.1" r="5.3" fill="#fff" stroke="#000" stroke-width="2.0"/><circle cx="394.4" cy="813.1" r="2.3" fill="#fff" stroke="#000" stroke-width="1.3"/>
<path d="M418.7 806.7 L416.2 806.7 Q413.4 807.4 413.4 813 Q413.4 818.6 416.2 819.2 L418.7 819.2 Z" fill="#111"/>
<rect x="415.3" y="809.2" width="1.1" height="7.6" rx="0.5" fill="#999"/>
<rect x="418.4" y="809.6" width="7.4" height="6.8" fill="#111" stroke="none" stroke-width="0"/>
<rect x="420.2" y="810.9" width="4.3" height="4.2" fill="#fff" stroke="none" stroke-width="0"/>
<path d="M425.4 810.3 L426.98 808.7 L428.56 810.3 L430.14 808.7 L431.72 810.3 L433.3 808.7 L434.88 810.3 L436.46 808.7 L438.04 810.3 L439.62 808.7 L441.2 810.3 L442.78 808.7 L444.36 810.3 L445.94 808.7 L447.52 810.3 L449.1 808.7 L450.68 810.3 L452.26 808.7 L453.84 810.3 L455.42 808.7 L457.0 810.4 L460 811.2 L465.9 813.1 L460 815 L457.0 815.8 L455.42 817.3 L453.84 815.7 L452.26 817.3 L450.68 815.7 L449.1 817.3 L447.52 815.7 L445.94 817.3 L444.36 815.7 L442.78 817.3 L441.2 815.7 L439.62 817.3 L438.04 815.7 L436.46 817.3 L434.88 815.7 L433.3 817.3 L431.72 815.7 L430.14 817.3 L428.56 815.7 L426.98 817.3 L425.4 815.7 Z" fill="#111" stroke="#111" stroke-width="0.6" stroke-linejoin="miter"/>
<line x1="427" y1="813.1" x2="455" y2="813.1" stroke="#555" stroke-width="1.6" stroke-dasharray="0.7 2.46"/>
</svg>
</body></html>
